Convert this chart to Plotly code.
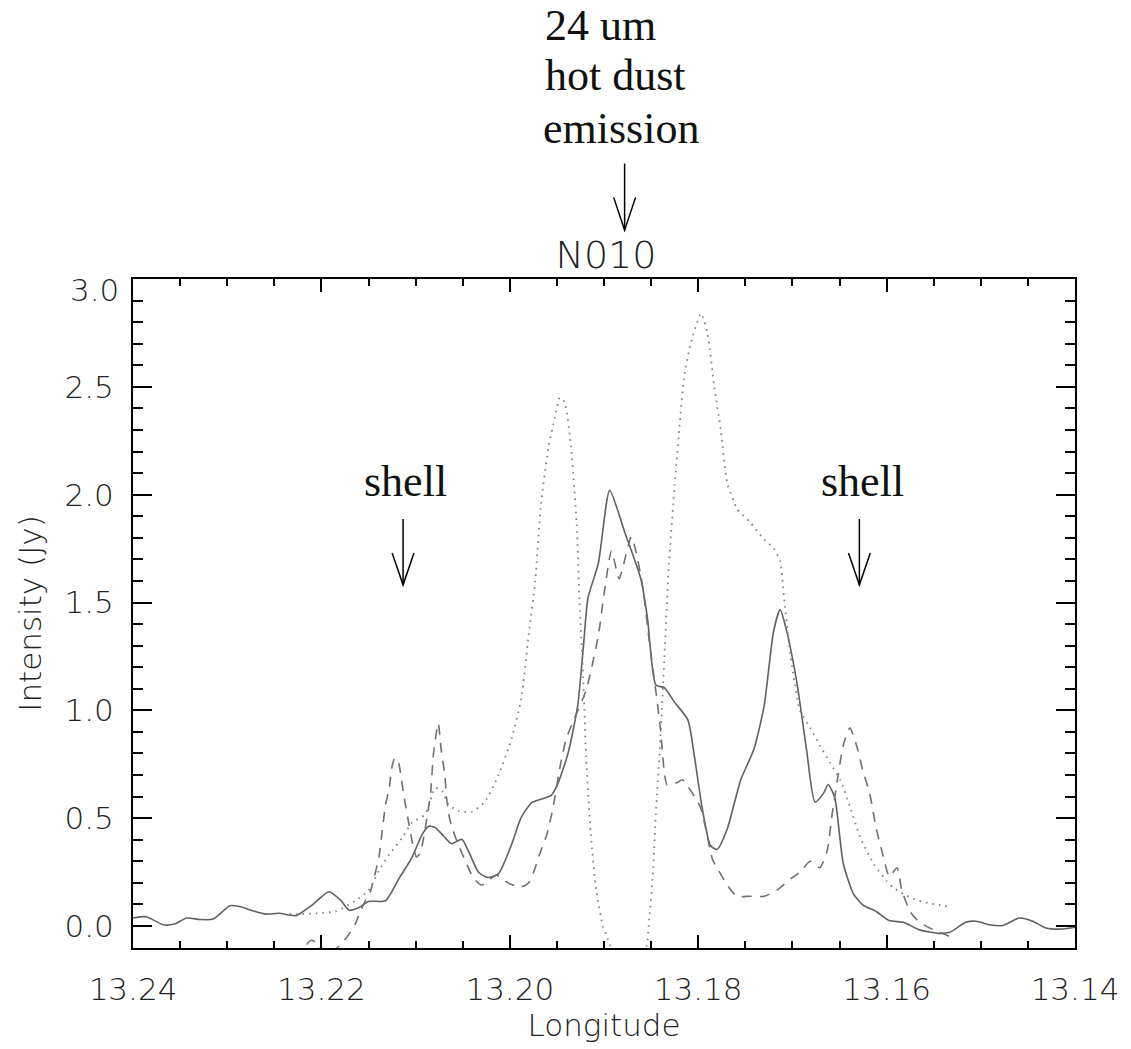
import plotly.graph_objects as go

# ---- N010 intensity profiles along Galactic longitude ----
solid_lon = [13.2400, 13.2386, 13.2368, 13.2356, 13.2343, 13.2329, 13.2315, 13.2297, 13.2287,
             13.2273, 13.2259, 13.2245, 13.2227, 13.2209, 13.2192, 13.2179, 13.2171, 13.2160,
             13.2150, 13.2132, 13.2118, 13.2104, 13.2093, 13.2086, 13.2079, 13.2072, 13.2062,
             13.2051, 13.2044, 13.2033, 13.2023, 13.2012, 13.1998, 13.1988, 13.1977, 13.1966,
             13.1956, 13.1949, 13.1938, 13.1928, 13.1922, 13.1917, 13.1906, 13.1894, 13.1878,
             13.1861, 13.1854, 13.1845, 13.1836, 13.1825, 13.1811, 13.1804, 13.1796, 13.1787,
             13.1780, 13.1769, 13.1755, 13.1741, 13.1730, 13.1720, 13.1713, 13.1706, 13.1695,
             13.1685, 13.1676, 13.1667, 13.1662, 13.1655, 13.1646, 13.1635, 13.1625, 13.1611,
             13.1597, 13.1582, 13.1565, 13.1544, 13.1533, 13.1516, 13.1505, 13.1491, 13.1477,
             13.1459, 13.1445, 13.1431, 13.1413, 13.1400]
solid_val = [0.037, 0.043, 0.006, 0.009, 0.037, 0.030, 0.032, 0.094, 0.090,
             0.071, 0.055, 0.059, 0.048, 0.100, 0.159, 0.117, 0.074, 0.086,
             0.114, 0.117, 0.217, 0.317, 0.425, 0.463, 0.456, 0.425, 0.382,
             0.402, 0.348, 0.248, 0.225, 0.243, 0.379, 0.502, 0.571, 0.589,
             0.606, 0.660, 0.804, 1.019, 1.288, 1.521, 1.682, 2.020, 1.826,
             1.611, 1.432, 1.118, 1.105, 1.037, 0.956, 0.786, 0.553, 0.373,
             0.355, 0.452, 0.676, 0.818, 1.021, 1.366, 1.467, 1.366, 1.122,
             0.818, 0.574, 0.615, 0.656, 0.595, 0.290, 0.148, 0.097, 0.067,
             0.025, 0.017, -0.018, -0.034, -0.029, 0.017, 0.022, 0.006, 0.002,
             0.037, 0.022, -0.009, -0.014, -0.006]

dashed_lon = [13.2224, 13.2218, 13.2211, 13.2204, 13.2196, 13.2183, 13.2173, 13.2164, 13.2160,
              13.2153, 13.2148, 13.2144, 13.2139, 13.2136, 13.2132, 13.2128, 13.2125, 13.2122,
              13.2118, 13.2115, 13.2112, 13.2107, 13.2103, 13.2099, 13.2095, 13.2088, 13.2084,
              13.2081, 13.2076, 13.2073, 13.2069, 13.2067, 13.2064, 13.2060, 13.2054, 13.2047,
              13.2039, 13.2030, 13.2014, 13.2002, 13.1989, 13.1980, 13.1973, 13.1967, 13.1961,
              13.1954, 13.1946, 13.1940, 13.1931, 13.1919, 13.1906, 13.1900, 13.1892, 13.1884,
              13.1871, 13.1866, 13.1859, 13.1852, 13.1845, 13.1840, 13.1836, 13.1833, 13.1822,
              13.1817, 13.1798, 13.1792, 13.1785, 13.1780, 13.1769, 13.1759, 13.1745, 13.1730,
              13.1716, 13.1702, 13.1692, 13.1681, 13.1671, 13.1663, 13.1658, 13.1653, 13.1646,
              13.1639, 13.1632, 13.1625, 13.1618, 13.1611, 13.1604, 13.1597, 13.1589, 13.1584,
              13.1575, 13.1565, 13.1547, 13.1531]
dashed_val = [-0.160, -0.100, -0.066, -0.080, -0.140, -0.100, -0.052, 0.010, 0.055,
              0.120, 0.160, 0.225, 0.317, 0.420, 0.560, 0.640, 0.740, 0.780,
              0.755, 0.680, 0.593, 0.470, 0.380, 0.320, 0.340, 0.500, 0.620,
              0.800, 0.940, 0.824, 0.700, 0.590, 0.500, 0.440, 0.370, 0.300,
              0.225, 0.190, 0.235, 0.200, 0.180, 0.200, 0.270, 0.350, 0.420,
              0.550, 0.754, 0.870, 0.966, 1.093, 1.347, 1.537, 1.740, 1.611,
              1.805, 1.736, 1.575, 1.324, 1.090, 0.911, 0.714, 0.655, 0.665,
              0.678, 0.554, 0.452, 0.311, 0.270, 0.189, 0.138, 0.138, 0.138,
              0.168, 0.219, 0.250, 0.300, 0.270, 0.351, 0.513, 0.656, 0.838,
              0.919, 0.838, 0.717, 0.615, 0.452, 0.331, 0.229, 0.270, 0.168,
              0.067, 0.017, -0.024, -0.052]

dotted_lon = [13.2234, 13.2224, 13.2199, 13.2185, 13.2164, 13.2150, 13.2139, 13.2128, 13.2114,
              13.2104, 13.2090, 13.2079, 13.2072, 13.2065, 13.2054, 13.2040, 13.2026, 13.2012,
              13.1998, 13.1988, 13.1980, 13.1973, 13.1967, 13.1959, 13.1952, 13.1947, 13.1942,
              13.1935, 13.1929, 13.1926, 13.1922, 13.1919, 13.1914, 13.1908, 13.1901, 13.1898,
              13.1891, 13.1877, 13.1864, 13.1855, 13.1852, 13.1848, 13.1845, 13.1840, 13.1836,
              13.1831, 13.1825, 13.1820, 13.1815, 13.1808, 13.1797, 13.1790, 13.1783, 13.1776,
              13.1769, 13.1762, 13.1759, 13.1745, 13.1730, 13.1720, 13.1713, 13.1709, 13.1704,
              13.1699, 13.1692, 13.1681, 13.1671, 13.1660, 13.1649, 13.1639, 13.1628, 13.1614,
              13.1600, 13.1593, 13.1582, 13.1568, 13.1554, 13.1540, 13.1531]
dotted_val = [0.055, 0.055, 0.060, 0.068, 0.117, 0.165, 0.256, 0.332, 0.410,
              0.479, 0.517, 0.640, 0.626, 0.563, 0.533, 0.530, 0.579, 0.700,
              0.871, 1.050, 1.350, 1.600, 1.950, 2.220, 2.360, 2.450, 2.430,
              2.221, 1.862, 1.503, 1.145, 0.786, 0.427, 0.158, -0.003, -0.039,
              -0.120, -0.350, -0.150, -0.093, 0.032, 0.248, 0.517, 0.876, 1.234,
              1.682, 2.041, 2.310, 2.543, 2.700, 2.840, 2.746, 2.500, 2.300,
              2.050, 1.970, 1.934, 1.873, 1.792, 1.752, 1.691, 1.528, 1.325,
              1.163, 1.000, 0.919, 0.838, 0.757, 0.676, 0.554, 0.412, 0.290,
              0.209, 0.179, 0.148, 0.120, 0.105, 0.094, 0.086]

x_ticks = [13.24, 13.22, 13.20, 13.18, 13.16, 13.14]
y_ticks = [0.0, 0.5, 1.0, 1.5, 2.0, 2.5, 3.0]
x_range = [13.24, 13.14]
y_range = [-0.102, 3.0]

# ---- page geometry (pixels) ----
W, H = 1131, 1049
L, R, T, B = 133, 52, 279, 98
PW, PH = W - L - R, H - T - B


def px_x(px):
    return (px - L) / PW


def px_y(py):
    return (H - B - py) / PH


sans = "DejaVu Sans ExtraLight, DejaVu Sans"
tick_font = dict(family=sans, size=31, color="#222222", weight=200)
label_font = dict(family=sans, size=31, color="#222222", weight=200)
serif = dict(family="Liberation Serif, Times New Roman, serif", size=44, color="#111111")

fig = go.Figure()
fig.add_trace(go.Scatter(x=solid_lon, y=solid_val, mode="lines",
                         line=dict(color="#606060", width=1.6, shape="spline", smoothing=0.6),
                         showlegend=False))
fig.add_trace(go.Scatter(x=dashed_lon, y=dashed_val, mode="lines",
                         line=dict(color="#707070", width=1.6, dash="10px,8px",
                                   shape="spline", smoothing=0.6),
                         showlegend=False))
fig.add_trace(go.Scatter(x=dotted_lon, y=dotted_val, mode="lines",
                         line=dict(color="#808080", width=1.8, dash="1.6px,5px",
                                   shape="spline", smoothing=0.6),
                         showlegend=False))

axis_common = dict(showline=True, linecolor="black", linewidth=2, mirror="ticks",
                   ticks="inside", tickcolor="black", tickwidth=1.5,
                   showgrid=False, zeroline=False, tickfont=tick_font)

fig.update_xaxes(range=x_range, tickmode="array", tickvals=x_ticks,
                 ticktext=[f"{v:.2f}" for v in x_ticks], ticklen=13,
                 ticklabelstandoff=13,
                 minor=dict(ticks="inside", ticklen=7, dtick=0.005, tick0=13.14,
                            tickcolor="black", tickwidth=1.5, showgrid=False),
                 title=dict(text="Longitude", font=label_font, standoff=8),
                 **axis_common)
fig.update_yaxes(range=y_range, tickmode="array", tickvals=y_ticks,
                 ticktext=[f"{v:.1f}" if v < 3.0 else "" for v in y_ticks], ticklen=19,
                 ticklabelstandoff=11,
                 minor=dict(ticks="inside", ticklen=10, dtick=0.1, tick0=0.0,
                            tickcolor="black", tickwidth=1.5, showgrid=False),
                 title=dict(text="Intensity (Jy)", font=label_font, standoff=14),
                 **axis_common)

annotations = [
    # top label of the y axis, nudged below the axis frame
    dict(text="3.0", xref="paper", yref="paper", x=px_x(121), y=px_y(290),
         xanchor="right", yanchor="middle", showarrow=False, font=tick_font),
    dict(text="24 um", xref="paper", yref="paper", x=px_x(545), y=px_y(51),
         xanchor="left", yanchor="bottom", showarrow=False, font=serif),
    dict(text="hot dust", xref="paper", yref="paper", x=px_x(545), y=px_y(101),
         xanchor="left", yanchor="bottom", showarrow=False, font=serif),
    dict(text="emission", xref="paper", yref="paper", x=px_x(543), y=px_y(154),
         xanchor="left", yanchor="bottom", showarrow=False, font=serif),
    dict(text="shell", xref="x", yref="y", x=13.2111, y=1.94,
         xanchor="center", yanchor="bottom", showarrow=False, font=serif),
    dict(text="shell", xref="x", yref="y", x=13.1626, y=1.94,
         xanchor="center", yanchor="bottom", showarrow=False, font=serif),
]

shapes = []


def arrow_paper(xp, top, tip, head, half):
    shapes.append(dict(type="line", xref="paper", yref="paper", x0=xp, x1=xp, y0=top, y1=tip,
                       line=dict(color="black", width=1.5)))
    shapes.append(dict(type="path", xref="paper", yref="paper",
                       path=f"M {xp - half},{head} L {xp},{tip} L {xp + half},{head}",
                       line=dict(color="black", width=1.5)))


def arrow_data(xl, top, tip, head, half):
    shapes.append(dict(type="line", xref="x", yref="y", x0=xl, x1=xl, y0=top, y1=tip,
                       line=dict(color="black", width=1.5)))
    shapes.append(dict(type="path", xref="x", yref="y",
                       path=f"M {xl + half},{head} L {xl},{tip} L {xl - half},{head}",
                       line=dict(color="black", width=1.5)))


arrow_paper(px_x(626.7), px_y(163), px_y(230), px_y(197), 11 / PW)
arrow_data(13.21133, 1.887, 1.582, 1.730, 0.00116)
arrow_data(13.16289, 1.887, 1.582, 1.730, 0.00116)

fig.update_layout(
    width=W, height=H,
    margin=dict(l=L, r=R, t=T, b=B, pad=0),
    paper_bgcolor="white", plot_bgcolor="white",
    title=dict(text="N010", x=606 / W, xanchor="center",
               y=1 - 268 / H, yanchor="bottom",
               font=dict(family=sans, size=38, color="#222222", weight=200)),
    annotations=annotations, shapes=shapes,
    showlegend=False,
)

fig.write_html("out.html")
